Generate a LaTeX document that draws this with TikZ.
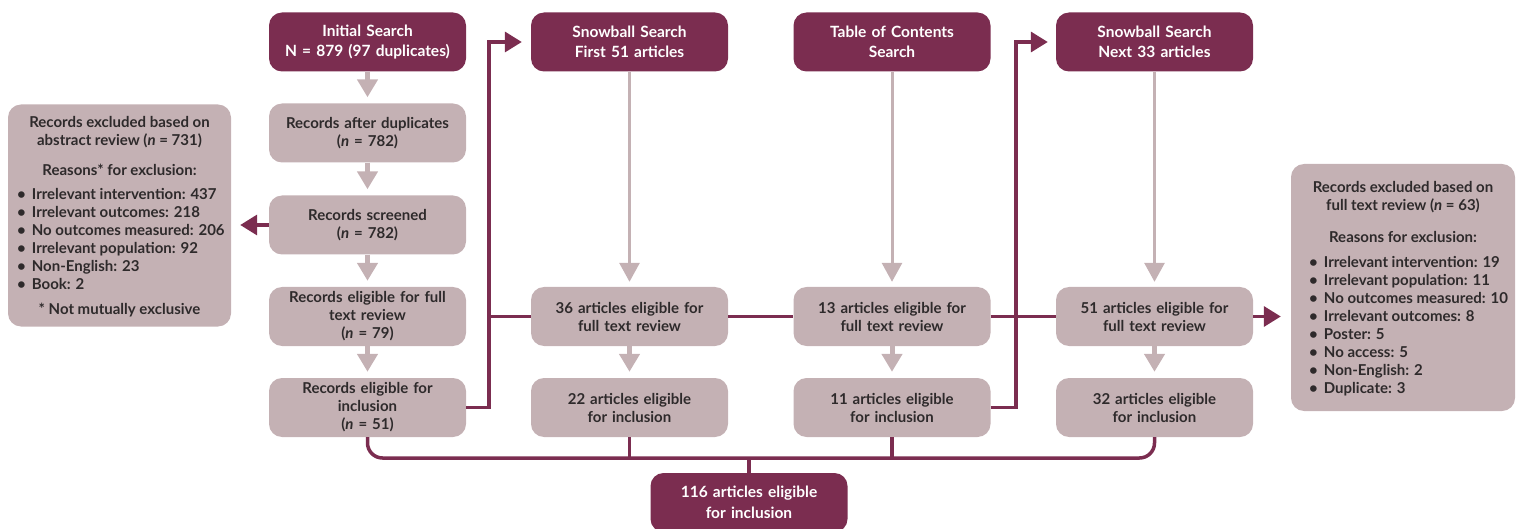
\documentclass[tikz,border=0pt]{standalone}
\usepackage{fontspec}
\setmainfont{Lato}
\usetikzlibrary{arrows.meta,calc}
\definecolor{maroon}{HTML}{7B2D50}
\definecolor{mauve}{HTML}{C4B1B4}
\definecolor{ink}{HTML}{2E2A2B}
\newcommand{\bul}{\textbullet\hspace{6pt}}
\tikzset{
  box/.style={rounded corners=13pt, minimum width=197pt, minimum height=59pt, text width=195pt, align=center, inner sep=0pt, font=\fontsize{15}{18}\selectfont\bfseries},
  greybox/.style={box, fill=mauve, text=ink},
  darkbox/.style={box, fill=maroon, text=white, font=\fontsize{15.5}{20.5}\selectfont\bfseries},
  sidebox/.style={rounded corners=13pt, fill=mauve, inner sep=0pt},
  sidetext/.style={text=ink, inner sep=0pt, font=\fontsize{15}{18}\selectfont\bfseries},
  garrow/.style={draw=mauve, line width=5pt, -{Triangle[width=20pt,length=18pt]}, shorten >=6pt},
  glong/.style={draw=mauve, line width=3pt, -{Triangle[width=20pt,length=19pt]}, shorten >=5pt},
  mline/.style={draw=maroon, line width=3.5pt},
  marrow/.style={mline, -{Triangle[width=20pt,length=17pt]}},
}
\begin{document}
\begin{tikzpicture}[x=1pt,y=-1pt]
\useasboundingbox (0,0) rectangle (1520,529);
\begin{scope}
\clip (0,0) rectangle (1520,529);
% column 1
\node[darkbox] (init) at (367.5,42) {Initial Search\\N = 879 (97 duplicates)};
\node[greybox] (rdup) at (367.5,133) {Records after duplicates\\(\textit{n} = 782)};
\node[greybox] (rscr) at (367.5,225) {Records screened\\(\textit{n} = 782)};
\node[greybox] (rfull) at (367.5,316.5) {Records eligible for full\\text review\\(\textit{n} = 79)};
\node[greybox] (rinc) at (367.5,407.5) {Records eligible for\\inclusion\\(\textit{n} = 51)};
% column 2
\node[darkbox] (sb1) at (629.5,42) {Snowball Search\\First 51 articles};
\node[greybox] (a36) at (629.5,316.5) {36 articles eligible for\\full text review};
\node[greybox] (a22) at (629.5,407.5) {22 articles eligible\\for inclusion};
% column 3
\node[darkbox] (toc) at (892,42) {Table of Contents\\Search};
\node[greybox] (a13) at (892,316.5) {13 articles eligible for\\full text review};
\node[greybox] (a11) at (892,407.5) {11 articles eligible\\for inclusion};
% column 4
\node[darkbox] (sb2) at (1154.5,42) {Snowball Search\\Next 33 articles};
\node[greybox] (a51) at (1154.5,316.5) {51 articles eligible for\\full text review};
\node[greybox] (a32) at (1154.5,407.5) {32 articles eligible\\for inclusion};
% final
\node[darkbox] (final) at (749,502.5) {116 articles eligible\\for inclusion};
\end{scope}
% left side box
\node[sidebox, minimum width=223pt, minimum height=222pt] (lbox) at (119.5,215.5) {};
\node[sidetext, align=center] (lt1) at (119.5,132) {Records excluded based on\\abstract review (\textit{n} = 731)};
\node[sidetext] (lt2) at (119.5,170) {Reasons* for exclusion:};
\node[sidetext, align=left, anchor=north west] (lt3) at (17,188) {\bul Irrelevant intervention: 437\\\bul Irrelevant outcomes: 218\\\bul No outcomes measured: 206\\\bul Irrelevant population: 92\\\bul Non-English: 23\\\bul Book: 2};
\node[sidetext] (lt4) at (119.5,310) {* Not mutually exclusive};
% right side box
\node[sidebox, minimum width=224pt, minimum height=247pt] (rbox) at (1403,287.5) {};
\node[sidetext, align=center] (rt1) at (1403,197) {Records excluded based on\\full text review (\textit{n} = 63)};
\node[sidetext] (rt2) at (1403,237) {Reasons for exclusion:};
\node[sidetext, align=left, anchor=north west] (rt3) at (1309,256) {\bul Irrelevant intervention: 19\\\bul Irrelevant population: 11\\\bul No outcomes measured: 10\\\bul Irrelevant outcomes: 8\\\bul Poster: 5\\\bul No access: 5\\\bul Non-English: 2\\\bul Duplicate: 3};
% grey arrows
\draw[garrow] (init) -- (rdup);
\draw[garrow] (rdup) -- (rscr);
\draw[garrow] (rscr) -- (rfull);
\draw[garrow] (rfull) -- (rinc);
\draw[glong] (sb1) -- (a36);
\draw[garrow] (a36) -- (a22);
\draw[glong] (toc) -- (a13);
\draw[garrow] (a13) -- (a11);
\draw[glong] (sb2) -- (a51);
\draw[garrow] (a51) -- (a32);
% maroon connectors
\coordinate (j1) at (489,407.5);
\coordinate (j2) at (1016,407.5);
\coordinate (bus) at (749,458);
\draw[marrow, shorten >=9pt] (rinc.east) -- (j1) |- (sb1.west);
\draw[mline] (j1 |- a36.west) -- (a36.west);
\draw[mline] (a36.east) -- (a13.west);
\draw[mline] (a13.east) -- (a51.west);
\draw[marrow, shorten >=8pt] (a11.east) -- (j2) |- (sb2.west);
\draw[marrow, shorten >=10pt] (a51.east) -- (a51.east -| rbox.west);
\draw[marrow, shorten >=9pt] (rscr.west) -- (rscr.west -| lbox.east);
\draw[mline, rounded corners=15pt] (rinc.south) |- (bus) -| (a32.south);
\draw[mline] (a22.south) -- (a22.south |- bus);
\draw[mline] (a11.south) -- (a11.south |- bus);
\draw[mline] (bus) -- (final.north);
\end{tikzpicture}
\end{document}
